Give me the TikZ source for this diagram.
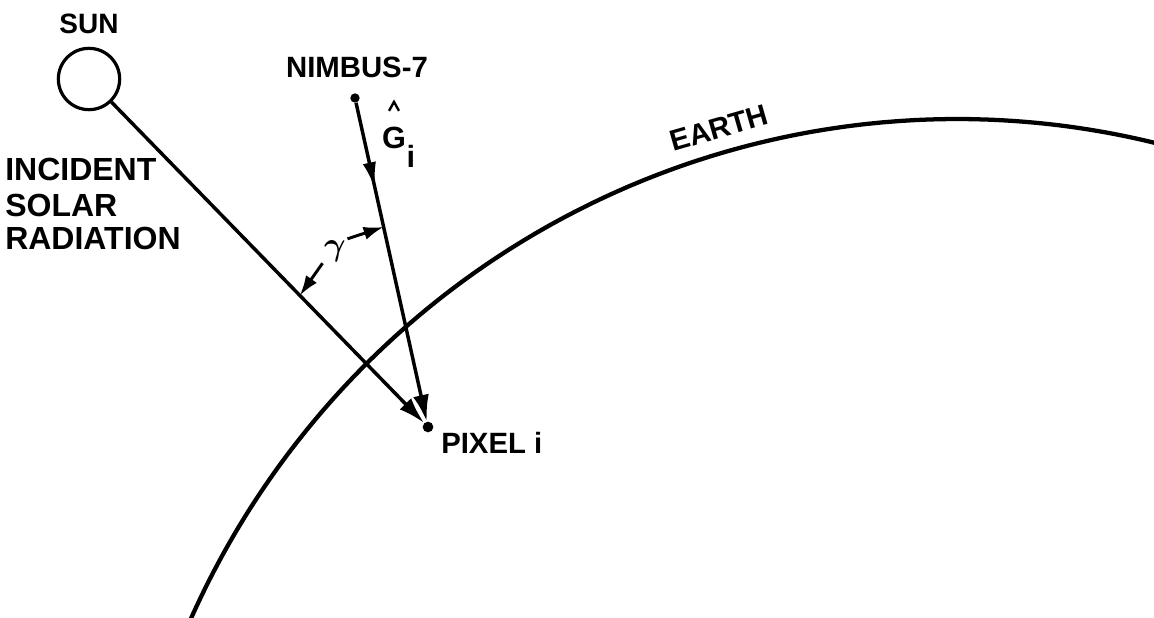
\documentclass[tikz,border=0pt]{standalone}
\usepackage{fontspec}
\setmainfont{Liberation Sans}
\usetikzlibrary{arrows.meta,decorations.markings,calc}
\tikzset{
  lbl/.style={inner sep=0pt, font=\bfseries},
  ray/.style={line width=2.6pt},
  tipbig/.style={-{Latex[length=20pt,width=12pt]}},
  dimarrow/.style={line width=2.2pt, -{Latex[length=15pt,width=10pt]}},
  dotnode/.style={circle, fill=black, inner sep=0pt, minimum size=7pt},
  earthline/.style={line width=3.2pt}
}
\begin{document}
\begin{tikzpicture}[x=0.75pt,y=-0.75pt]
\useasboundingbox (0,0) rectangle (1154,618);
% Earth
\draw[earthline] plot[domain=-156.5:-75.5, samples=150] ({957+840*cos(\x)}, {966+847*sin(\x)});
\node[lbl, rotate=16, font=\bfseries\fontsize{22}{22}\selectfont] (earth) at (719,128) {EARTH};
% Sun
\node[draw, circle, line width=2.4pt, minimum size=46pt, inner sep=0pt] (sun) at (89,79) {};
\node[lbl, font=\bfseries\fontsize{21}{21}\selectfont] (suntxt) at (89,24) {SUN};
\node[lbl, anchor=base west, font=\bfseries\fontsize{24}{24}\selectfont] (inc1) at (5,180) {INCIDENT};
\node[lbl, anchor=base west, font=\bfseries\fontsize{24}{24}\selectfont] (inc2) at (5,216) {SOLAR};
\node[lbl, anchor=base west, font=\bfseries\fontsize{24}{24}\selectfont] (inc3) at (5,249) {RADIATION};
% Satellite
\node[dotnode] (nim) at (355,98) {};
\node[lbl, font=\bfseries\fontsize{22}{22}\selectfont] (nimtxt) at (357,67) {NIMBUS-7};
% Pixel
\node[dotnode, minimum size=8pt] (pix) at (428,427) {};
\node[lbl, anchor=west, font=\bfseries\fontsize{22}{22}\selectfont] (pixtxt) at (441,443) {PIXEL i};
% G label
\node[lbl, font=\bfseries\fontsize{23}{23}\selectfont] (G) at (394,138) {G};
\node[lbl, font=\bfseries\fontsize{23}{23}\selectfont] (Gi) at (411,156) {i};
\draw[line width=1.8pt, line join=miter] ([shift={(-5,-16)}]G.north) -- ([shift={(0,-25)}]G.north) -- ([shift={(5,-16)}]G.north);
% Rays
\draw[ray, tipbig] (sun) -- (pix);
\draw[ray, tipbig, postaction={decorate},
  decoration={markings, mark=at position 0.27 with {\arrow{Latex[length=20pt,width=10pt]}}}] (nim) -- (pix);
% Angle gamma
\coordinate (ga) at ($(sun.center)!0.622!(pix.center)$);
\coordinate (gb) at ($(nim.center)!0.392!(pix.center)$);
\node[inner sep=1pt, font=\boldmath\fontsize{24}{24}\selectfont] (gamma) at (335,251) {$\gamma$};
\draw[dimarrow] (gamma.south west) -- (ga);
\draw[dimarrow] (gamma.north east) -- (gb);
\end{tikzpicture}
\end{document}
